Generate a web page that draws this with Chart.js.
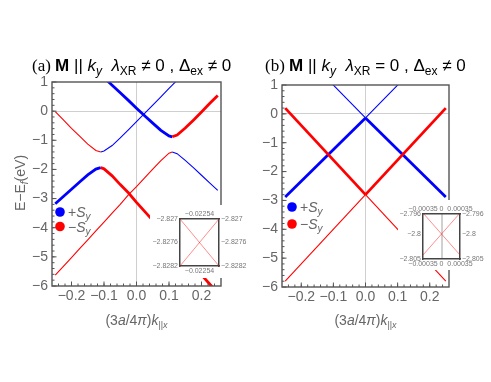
<!DOCTYPE html>
<html>
<head>
<meta charset="utf-8">
<script src="https://cdn.jsdelivr.net/npm/chart.js@4.4.1/dist/chart.umd.min.js"></script>
<style>
  body { margin: 0; background: #fff; }
  #wrap { position: relative; width: 491px; height: 382px; overflow: hidden; }
  canvas { position: absolute; }
  #chartA { left: 0; top: 0; }
  #chartB { left: 245px; top: 0; }
  #insetA { left: 150px; top: 205px; background: #fff; }
  #insetB { left: 398px; top: 200px; background: #fff; }
</style>
</head>
<body>
<div id="wrap">
  <canvas id="chartA" width="245" height="382"></canvas>
  <canvas id="chartB" width="246" height="382"></canvas>
  <canvas id="insetA" width="100" height="73"></canvas>
  <canvas id="insetB" width="93" height="70"></canvas>
</div>
<script>
// Ejes principales
const xTicks = [-0.2, -0.1, 0, 0.1, 0.2];
const yTicks = [1, 0, -1, -2, -3, -4, -5, -6];

// Panel (a): k y energías (eV)
const kA = [-0.25, -0.225, -0.2, -0.175, -0.15, -0.125, -0.11, -0.1, -0.075, -0.05, -0.025, 0,
            0.025, 0.05, 0.075, 0.1, 0.11, 0.125, 0.15, 0.175, 0.2, 0.225, 0.25];
const bandA1 = [-0.02, -0.30, -0.59, -0.86, -1.13, -1.35, -1.40, -1.37, -1.18, -0.92, -0.64, -0.36,
                -0.08, 0.21, 0.49, 0.78, 0.89, 1.06, null, null, null, null, null];
const bandA2 = [null, null, null, null, null, null, null, 1.15, 0.89, 0.63, 0.37, 0.10,
                -0.16, -0.41, -0.66, -0.85, -0.88, -0.82, -0.58, -0.31, -0.03, 0.26, 0.54];
const bandA3 = [-3.18, -2.93, -2.68, -2.43, -2.19, -1.99, -1.94, -1.98, -2.22, -2.52, -2.80, -3.13,
                -3.44, -3.75, -4.06, -4.37, -4.50, -4.68, -5.00, -5.31, -5.62, -5.93, -6.24];
const bandA4 = [-5.63, -5.33, -5.03, -4.72, -4.42, -4.11, -3.93, -3.81, -3.50, -3.20, -2.87, -2.59,
                -2.29, -1.99, -1.70, -1.44, -1.40, -1.46, -1.69, -1.94, -2.20, -2.46, -2.72];

// Panel (b): rectas que se cruzan en k = 0
const kB = [-0.25, 0, 0.25];
const bandB1 = [0.20, -2.80, -5.80];
const bandB2 = [-5.80, -2.80, 0.20];
const bandB3 = [-2.88, -0.14, 2.70];
const bandB4 = [2.70, -0.14, -2.88];

// Recuadros (zoom del cruce)
const insetAK = [-0.02259, -0.02249];
const insetA1 = [-2.8270, -2.8282];
const insetA2 = [-2.8282, -2.8270];
const insetAXTicks = [-0.02254];
const insetAYTicks = [-2.8282, -2.8276, -2.827];

const insetBK = [-0.00035, 0.00035];
const insetB1 = [-2.7958, -2.8042];
const insetB2 = [-2.8042, -2.7958];
const insetBXTicks = [-0.00035, 0, 0.00035];
const insetBYTicks = [-2.805, -2.8, -2.796];

const BLUE = 'rgb(0,0,255)';
const RED = 'rgb(255,0,0)';
const PINK = 'rgba(255,0,0,0.45)';
const THICK = 2.8, THIN = 1.1;
const GRAY = '#666';
const SANS = '"Liberation Sans", Arial, sans-serif';
const MINUS = '\u2212';

const fmtNum = v => (v < 0 ? MINUS : '') + String(Math.abs(v));

function toPoints(ks, vals) {
    const pts = [];
    ks.forEach((x, i) => { if (vals[i] !== null) pts.push({ x: x, y: vals[i] }); });
    return pts;
}

function makeDataset(ks, s) {
    const pts = toPoints(ks, s.vals);
    const left = ctx => pts[ctx.p0DataIndex].x < s.splitK;
    return {
        data: pts,
        showLine: true,
        pointRadius: 0,
        borderColor: s.colors[0],
        borderWidth: s.widths[0],
        clip: 0,
        segment: {
            borderColor: ctx => left(ctx) ? s.colors[0] : s.colors[1],
            borderWidth: ctx => left(ctx) ? s.widths[0] : s.widths[1]
        }
    };
}

function drawRuns(ctx, runs, x, y, align) {
    let total = 0;
    runs.forEach(r => { ctx.font = r[1]; total += ctx.measureText(r[0]).width; });
    let cx = align === 'center' ? x - total / 2 : x;
    runs.forEach(r => {
        ctx.font = r[1];
        ctx.fillText(r[0], cx, y + (r[2] || 0));
        cx += ctx.measureText(r[0]).width;
    });
}

// Marco y marcas hacia dentro (estilo Mathematica)
const framePlugin = {
    id: 'frame',
    afterDatasetsDraw(chart) {
        const ctx = chart.ctx;
        const a = chart.chartArea;
        const sx = chart.scales.x, sy = chart.scales.y;
        ctx.save();
        ctx.strokeStyle = '#555';
        ctx.lineWidth = 1;
        ctx.beginPath();
        xTicks.forEach(v => { const p = sx.getPixelForValue(v); ctx.moveTo(p, a.bottom); ctx.lineTo(p, a.bottom - 4.5); });
        for (let v = -0.24; v < 0.25; v += 0.02) { const p = sx.getPixelForValue(v); ctx.moveTo(p, a.bottom); ctx.lineTo(p, a.bottom - 2.5); }
        yTicks.forEach(v => { const p = sy.getPixelForValue(v); ctx.moveTo(a.left, p); ctx.lineTo(a.left + 4.5, p); });
        for (let v = -5.8; v < 1; v += 0.2) { const p = sy.getPixelForValue(v); ctx.moveTo(a.left, p); ctx.lineTo(a.left + 2.5, p); }
        ctx.stroke();
        ctx.lineWidth = 1.4;
        ctx.strokeRect(a.left, a.top, a.right - a.left, a.bottom - a.top);
        ctx.restore();
    }
};

function textPlugin(p) {
    return {
        id: 'texts',
        afterDraw(chart) {
            const ctx = chart.ctx;
            const a = chart.chartArea;
            ctx.save();
            ctx.textAlign = 'left';
            ctx.textBaseline = 'alphabetic';
            // título
            ctx.fillStyle = '#000';
            drawRuns(ctx, p.title, p.titleX, 71, 'left');
            // eje x
            ctx.fillStyle = GRAY;
            drawRuns(ctx, [
                ['(3', '14px ' + SANS], ['a', 'italic 14px ' + SANS], ['/4', '14px ' + SANS],
                ['\u03c0', 'italic 14px ' + SANS], [')', '14px ' + SANS], ['k', 'italic 14px ' + SANS],
                ['||', '9px ' + SANS, 3], ['x', 'italic 9px ' + SANS, 3]
            ], (a.left + a.right) / 2, 325, 'center');
            // eje y
            if (p.yTitle) {
                ctx.save();
                ctx.translate(25, 183);
                ctx.rotate(-Math.PI / 2);
                drawRuns(ctx, [
                    ['E' + MINUS + 'E', '14px ' + SANS], ['f', 'italic 10px ' + SANS, 3], ['(eV)', '14px ' + SANS]
                ], 0, 0, 'center');
                ctx.restore();
            }
            // leyenda
            p.legend.forEach(l => {
                ctx.fillStyle = l.color;
                ctx.beginPath();
                ctx.arc(p.legendX, l.y, 4.8, 0, Math.PI * 2);
                ctx.fill();
                ctx.fillStyle = GRAY;
                drawRuns(ctx, [
                    [l.sign, '14px ' + SANS], ['S', 'italic 14px ' + SANS], ['y', 'italic 10px ' + SANS, 3]
                ], p.legendX + 8, l.y + 5, 'left');
            });
            ctx.restore();
        }
    };
}

function titleRuns(tag, rel) {
    const big = '17px ' + SANS, sub = '12px ' + SANS;
    return [
        [tag + ' ', '17px "Liberation Serif", serif'], ['M', 'bold ' + big], [' || ', big],
        ['k', 'italic ' + big], ['y', 'italic ' + sub, 4], ['  ', big],
        ['\u03bb', 'italic ' + big], ['XR', sub, 4], [' ' + rel + ' 0 , ', big],
        ['\u0394', big], ['ex', sub, 4], [' \u2260 0', big]
    ];
}

function makePanel(id, ks, series, p) {
    const tickFont = { family: SANS, size: 14 };
    const zeroGrid = ctx => (ctx.tick && ctx.tick.value === 0) ? '#cfcfcf' : 'rgba(0,0,0,0)';
    return new Chart(document.getElementById(id), {
        type: 'scatter',
        data: { datasets: series.map(s => makeDataset(ks, s)) },
        options: {
            responsive: false,
            animation: false,
            layout: { padding: { top: p.top, right: p.right, bottom: p.bottom, left: 0 } },
            plugins: { legend: { display: false }, tooltip: { enabled: false } },
            scales: {
                x: {
                    type: 'linear', min: -0.26, max: 0.26,
                    afterBuildTicks: s => { s.ticks = xTicks.map(v => ({ value: v })); },
                    afterFit: s => { s.height = 30; },
                    ticks: {
                        autoSkip: false, maxRotation: 0, minRotation: 0, padding: 2,
                        color: GRAY, font: tickFont,
                        callback: v => (v < 0 ? MINUS : '') + Math.abs(v).toFixed(1)
                    },
                    grid: { color: zeroGrid, drawTicks: false },
                    border: { display: false }
                },
                y: {
                    type: 'linear', min: -6, max: 1,
                    afterBuildTicks: s => { s.ticks = yTicks.map(v => ({ value: v })); },
                    afterFit: s => { s.width = p.yWidth; },
                    ticks: { autoSkip: false, padding: 4, color: GRAY, font: tickFont, callback: fmtNum },
                    grid: { color: zeroGrid, drawTicks: false },
                    border: { display: false }
                }
            }
        },
        plugins: [framePlugin, textPlugin(p)]
    });
}

function makeInset(id, ks, lines, xr, yr, xt, yt, sz, zeroLine) {
    const f = { family: SANS, size: 7 };
    const border = { display: true, color: '#444', width: 1.5 };
    const noGrid = { display: true, drawOnChartArea: false, drawTicks: false };
    const xGrid = zeroLine
        ? { drawTicks: false, lineWidth: 2, color: ctx => (ctx.tick && ctx.tick.value === 0) ? '#d0d0d0' : 'rgba(0,0,0,0)' }
        : noGrid;
    const xAxis = (pos, h) => ({
        type: 'linear', position: pos, min: xr[0], max: xr[1],
        afterBuildTicks: s => { s.ticks = xt.map(v => ({ value: v })); },
        afterFit: s => { s.height = h; },
        ticks: { autoSkip: false, maxRotation: 0, minRotation: 0, padding: 1, color: '#777', font: f, callback: fmtNum },
        grid: pos === 'bottom' ? xGrid : noGrid,
        border: border
    });
    const yAxis = (pos, w) => ({
        type: 'linear', position: pos, min: yr[0], max: yr[1],
        afterBuildTicks: s => { s.ticks = yt.map(v => ({ value: v })); },
        afterFit: s => { s.width = w; },
        ticks: { autoSkip: false, padding: 2, color: '#777', font: f, callback: fmtNum },
        grid: noGrid,
        border: border
    });
    return new Chart(document.getElementById(id), {
        type: 'scatter',
        data: {
            datasets: lines.map(vals => ({
                data: toPoints(ks, vals), showLine: true, pointRadius: 0,
                borderColor: PINK, borderWidth: 1, clip: 0
            }))
        },
        options: {
            responsive: false,
            animation: false,
            layout: { padding: 0 },
            plugins: { legend: { display: false }, tooltip: { enabled: false } },
            scales: {
                x: xAxis('bottom', sz.bottom),
                x2: xAxis('top', sz.top),
                y: yAxis('left', sz.left),
                y2: yAxis('right', sz.right)
            }
        }
    });
}

// Panel (a)
makePanel('chartA', kA, [
    { vals: bandA4, splitK: 0.11, colors: [RED, BLUE], widths: [THIN, THIN] },
    { vals: bandA1, splitK: -0.11, colors: [RED, BLUE], widths: [THIN, THIN] },
    { vals: bandA3, splitK: -0.11, colors: [BLUE, RED], widths: [THICK, THICK] },
    { vals: bandA2, splitK: 0.11, colors: [BLUE, RED], widths: [THICK, THICK] }
], {
    top: 82, right: 24, bottom: 66, yWidth: 52,
    title: titleRuns('(a)', '\u2260'), titleX: 32, yTitle: true,
    legendX: 60,
    legend: [{ color: BLUE, sign: '+', y: 212 }, { color: RED, sign: MINUS, y: 226.5 }]
});

// Panel (b)
makePanel('chartB', kB, [
    { vals: bandB1, splitK: 0, colors: [RED, RED], widths: [THICK, THIN] },
    { vals: bandB2, splitK: 0, colors: [RED, RED], widths: [THIN, THICK] },
    { vals: bandB3, splitK: 0, colors: [BLUE, BLUE], widths: [THICK, THIN] },
    { vals: bandB4, splitK: 0, colors: [BLUE, BLUE], widths: [THIN, THICK] }
], {
    top: 85, right: 42, bottom: 65, yWidth: 37,
    title: titleRuns('(b)', '='), titleX: 20, yTitle: false,
    legendX: 47,
    legend: [{ color: BLUE, sign: '+', y: 207 }, { color: RED, sign: MINUS, y: 224 }]
});

// Recuadros
makeInset('insetA', insetAK, [insetA1, insetA2], [insetAK[0], insetAK[1]], [-2.8282, -2.827],
    insetAXTicks, insetAYTicks, { left: 30, right: 31, top: 14, bottom: 12 }, false);
makeInset('insetB', insetBK, [insetB1, insetB2], [insetBK[0], insetBK[1]], [-2.805, -2.796],
    insetBXTicks, insetBYTicks, { left: 25, right: 31, top: 14, bottom: 11 }, true);
</script>
</body>
</html>
